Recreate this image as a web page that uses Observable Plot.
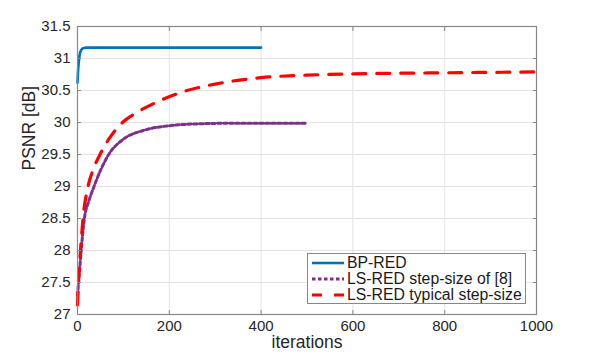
<!DOCTYPE html>
<html><head><meta charset="utf-8">
<script src="https://cdn.jsdelivr.net/npm/d3@7"></script>
<script src="https://cdn.jsdelivr.net/npm/@observablehq/plot@0.6"></script>
<style>
body{margin:0;background:#fff;font-family:"Liberation Sans",Arial,Helvetica,sans-serif;}
#wrap{position:relative;width:592px;height:353px;}
#legend{position:absolute;left:307px;top:253px;width:217px;height:49px;border:1px solid #888;background:#fff;box-sizing:content-box;}
#legend .row{position:absolute;left:0;height:16px;display:flex;align-items:center;font-size:15.8px;color:#1a1a1a;white-space:nowrap;}
#legend svg{margin-left:4px;margin-right:3px;}
</style></head>
<body><div id="wrap"></div>
<script>
const seriesNames = ["BP-RED", "LS-RED step-size of [8]", "LS-RED typical step-size"];
const seriesColors = ["#0072BD", "#7E2F8E", "#FF0000"];

const bpIter = [0, 1, 2, 3, 4, 5, 6, 8, 10, 12, 15, 20, 50, 100, 200, 300, 400];
const bpPsnr = [30.62, 30.78, 30.88, 30.96, 31.02, 31.07, 31.10, 31.13, 31.15, 31.16, 31.165, 31.17, 31.17, 31.17, 31.17, 31.17, 31.17];

const lsIter = [0, 3, 8, 15, 25, 36, 50, 68, 100, 143, 200, 268, 350, 500];
const lsPsnr = [27.3, 27.55, 28.0, 28.5, 28.78, 29.0, 29.25, 29.5, 29.74, 29.875, 29.95, 29.98, 29.99, 29.99];

const redIter = [0, 2, 6.5, 12, 23, 35, 49, 70, 98, 130, 170, 230, 300, 400, 500, 600, 775, 1000];
const redPsnr = [27.15, 27.5, 28.0, 28.5, 29.0, 29.28, 29.5, 29.76, 30.0, 30.16, 30.31, 30.48, 30.6, 30.7, 30.74, 30.76, 30.775, 30.79];

const xTicks = [0, 200, 400, 600, 800, 1000];
const yTicks = [27, 27.5, 28, 28.5, 29, 29.5, 30, 30.5, 31, 31.5];
const xLabel = "iterations";
const yLabel = "PSNR [dB]";

const toRows = (xs, ys, name) => xs.map((x, i) => ({x, y: ys[i], name}));
const bp = toRows(bpIter, bpPsnr, seriesNames[0]);
const ls = toRows(lsIter, lsPsnr, seriesNames[1]);
const red = toRows(redIter, redPsnr, seriesNames[2]);

const gridColor = "#e3e3e3";
const axisColor = "#888";
const fontSize = 15;
const dashes = [null, "3.5,2.5", "13,11"];
const widths = [2.6, 3, 3.2];

const chart = Plot.plot({
  width: 592,
  height: 353,
  marginLeft: 77,
  marginRight: 56,
  marginTop: 26,
  marginBottom: 39,
  style: {fontFamily: "'Liberation Sans', Arial, Helvetica, sans-serif", color: "#262626", background: "#fff"},
  x: {domain: [0, 1000]},
  y: {domain: [27, 31.5]},
  marks: [
    Plot.gridX(xTicks, {stroke: gridColor, strokeOpacity: 1}),
    Plot.gridY(yTicks, {stroke: gridColor, strokeOpacity: 1}),
    Plot.line(bp, {x: "x", y: "y", stroke: seriesColors[0], strokeWidth: widths[0], curve: "monotone-x"}),
    Plot.line(ls, {x: "x", y: "y", stroke: seriesColors[1], strokeWidth: widths[1], strokeDasharray: dashes[1], curve: "monotone-x"}),
    Plot.line(red, {x: "x", y: "y", stroke: seriesColors[2], strokeWidth: widths[2], strokeDasharray: dashes[2], curve: "monotone-x"}),
    Plot.frame({stroke: axisColor, strokeWidth: 1.2}),
    Plot.axisX(xTicks, {anchor: "bottom", label: null, tickSize: -4, tickPadding: 10, stroke: axisColor, fontSize, fill: "#262626", tickFormat: d => String(d)}),
    Plot.axisX(xTicks, {anchor: "top", label: null, tickSize: -4, stroke: axisColor, tickFormat: () => ""}),
    Plot.axisY(yTicks, {anchor: "left", label: null, tickSize: -4, tickPadding: 11, stroke: axisColor, fontSize, fill: "#262626", tickFormat: d => String(d)}),
    Plot.axisY(yTicks, {anchor: "right", label: null, tickSize: -4, stroke: axisColor, tickFormat: () => ""}),
    Plot.text([xLabel], {text: d => d, frameAnchor: "bottom", dy: 28, fontSize: 17.5, fill: "#262626", lineAnchor: "middle"}),
    Plot.text([yLabel], {text: d => d, frameAnchor: "left", dx: -48, rotate: -90, fontSize: 17.5, fill: "#262626", lineAnchor: "middle"})
  ]
});

const wrap = document.getElementById("wrap");
wrap.appendChild(chart);

// legend overlay
const legend = document.createElement("div");
legend.id = "legend";
seriesNames.forEach((name, i) => {
  const row = document.createElement("div");
  row.className = "row";
  row.style.top = (1 + i * 16) + "px";
  const sw = document.createElementNS("http://www.w3.org/2000/svg", "svg");
  sw.setAttribute("width", 32); sw.setAttribute("height", 8);
  const ln = document.createElementNS("http://www.w3.org/2000/svg", "line");
  ln.setAttribute("x1", 0); ln.setAttribute("x2", 32); ln.setAttribute("y1", 4); ln.setAttribute("y2", 4);
  ln.setAttribute("stroke", seriesColors[i]); ln.setAttribute("stroke-width", widths[i]);
  if (dashes[i]) ln.setAttribute("stroke-dasharray", i === 2 ? "10,12" : dashes[i]);
  sw.appendChild(ln);
  const t = document.createElement("span");
  t.textContent = name;
  row.appendChild(sw); row.appendChild(t);
  legend.appendChild(row);
});
wrap.appendChild(legend);
</script>
</body></html>
